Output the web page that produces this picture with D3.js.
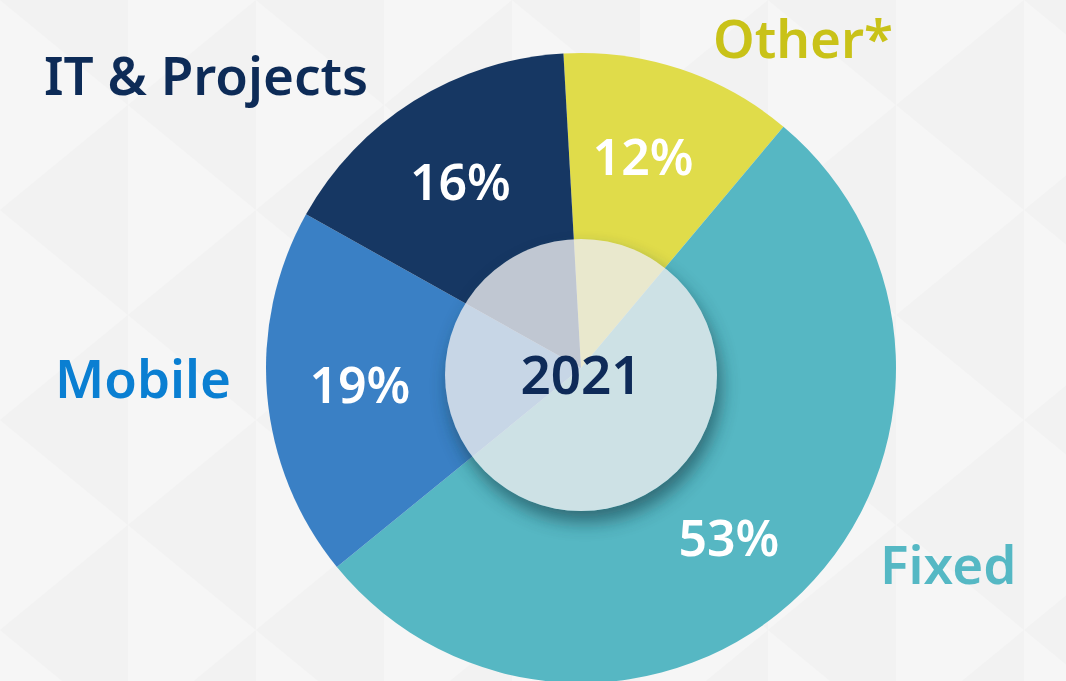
<!DOCTYPE html>
<html>
<head>
<meta charset="utf-8">
<script src="https://cdn.jsdelivr.net/npm/d3@7"></script>
<style>
  html,body{margin:0;padding:0;background:#f3f3f3;}
  svg{display:block;}
  text{font-family:"Noto Sans",sans-serif;font-weight:600;}
</style>
</head>
<body>
<svg class="plot"></svg>
<script>
var categories=["Other*","Fixed","Mobile","IT & Projects"];
var shares=[12,53,19,16];
var sliceColors=["#e0dc4a","#56b7c3","#3a80c5","#163763"];
var labelColors=["#c9c218","#55b8c4","#0a7fd2","#0d2b57"];
var centerLabel="2021";

var screen=
{
  width:1066,
  height:681
};
// outer label anchors, same order as categories
var labelSpots=[[713,58],[880,584],[55,398],[44,95]];
// small nudges for the percentage labels
var pctNudge=[[-8,0],[-8,12],[0,-2],[-3,2]];

var svg=d3.select("svg.plot")
          .attr("width",screen.width)
          .attr("height",screen.height);

// faint triangle background
var bg=svg.append("g").classed("bg",true);
bg.append("rect")
  .attr("width",screen.width)
  .attr("height",screen.height)
  .attr("fill","#f2f2f2");
var colW=128,rowH=210;
for(var c=-1;c<10;c++)
{
  for(var r=-1;r<5;r++)
  {
    var x0=c*colW,y0=r*rowH+(c%2?rowH/2:0);
    bg.append("path")
      .attr("d","M"+x0+","+y0+"L"+(x0+colW)+","+(y0+rowH/2)+"L"+x0+","+(y0+rowH)+"Z")
      .attr("fill","#f6f6f6");
  }
}

var cx=581,cy=368,radius=315;
var start=-3.2*Math.PI/180;

var pie=d3.pie()
          .sort(null)
          .value(function(d){return d;})
          .startAngle(start)
          .endAngle(start+2*Math.PI);
var arcs=pie(shares);
var arc=d3.arc().innerRadius(0).outerRadius(radius);
var labelArc=d3.arc().innerRadius(222).outerRadius(222);

var plot=svg.append("g")
            .classed("plot",true)
            .attr("transform","translate("+cx+","+cy+")");

plot.selectAll("path.slice")
    .data(arcs)
    .enter()
    .append("path")
    .classed("slice",true)
    .attr("d",arc)
    .attr("fill",function(d,i){
      return sliceColors[i];
    });

plot.selectAll("text.pct")
    .data(arcs)
    .enter()
    .append("text")
    .classed("pct",true)
    .attr("transform",function(d,i){
      var p=labelArc.centroid(d);
      return "translate("+(p[0]+pctNudge[i][0])+","+(p[1]+pctNudge[i][1])+")";
    })
    .attr("text-anchor","middle")
    .attr("dy","0.36em")
    .attr("fill","#ffffff")
    .attr("font-size",50)
    .text(function(d){
      return d.data+"%";
    });

// centre disc with soft shadow
var innerR=136,innerDy=7;
var defs=svg.append("defs");
defs.append("filter")
    .attr("id","blur")
    .attr("x","-30%").attr("y","-30%")
    .attr("width","160%").attr("height","160%")
    .append("feGaussianBlur")
    .attr("stdDeviation",9);
var mask=defs.append("mask").attr("id","hole");
mask.append("rect")
    .attr("x",-cx).attr("y",-cy)
    .attr("width",screen.width).attr("height",screen.height)
    .attr("fill","#fff");
mask.append("circle")
    .attr("cx",0).attr("cy",innerDy)
    .attr("r",innerR)
    .attr("fill","#000");

plot.append("g")
    .attr("mask","url(#hole)")
    .append("circle")
    .attr("cx",4)
    .attr("cy",innerDy+11)
    .attr("r",innerR)
    .attr("fill","#133a45")
    .attr("opacity",0.6)
    .attr("filter","url(#blur)");

plot.append("circle")
    .attr("cx",0)
    .attr("cy",innerDy)
    .attr("r",innerR)
    .attr("fill","#ebebed")
    .attr("fill-opacity",0.8);

plot.append("text")
    .attr("x",0)
    .attr("y",innerDy)
    .attr("dy","0.36em")
    .attr("text-anchor","middle")
    .attr("fill","#0e2a58")
    .attr("font-size",53)
    .text(centerLabel);

// category names
svg.append("g")
   .classed("legend",true)
   .selectAll("text")
   .data(categories)
   .enter()
   .append("text")
   .attr("x",function(d,i){return labelSpots[i][0];})
   .attr("y",function(d,i){return labelSpots[i][1];})
   .attr("fill",function(d,i){return labelColors[i];})
   .attr("font-size",53)
   .text(function(d){return d;});
</script>
</body>
</html>
